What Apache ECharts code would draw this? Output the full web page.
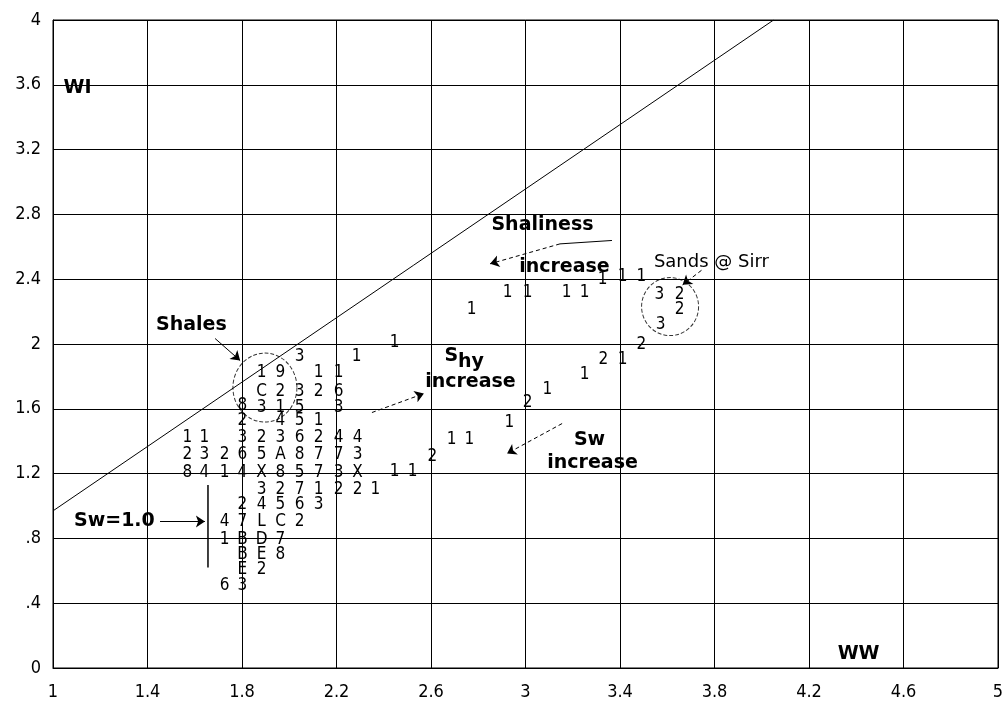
<!DOCTYPE html>
<html>
<head>
<meta charset="utf-8">
<script src="https://cdn.jsdelivr.net/npm/echarts@6/dist/echarts.min.js"></script>
<style>
  html, body { margin: 0; padding: 0; background: #ffffff; }
  #chart { width: 1007px; height: 709px; }
</style>
</head>
<body>
<div id="chart"></div>
<script>
// Crossplot of WW (x) against WI (y); every cell shows a count / code character.
const codeX = [
  // WI ~ 1.82
  1.885, 1.965, 2.126, 2.211,
  // WI ~ 1.70
  1.885, 1.965, 2.046, 2.126, 2.211,
  // WI ~ 1.61
  1.804, 1.885, 1.965, 2.046, 2.211,
  // WI ~ 1.52
  1.804, 1.965, 2.046, 2.126,
  // WI ~ 1.42
  1.571, 1.643, 1.804, 1.885, 1.965, 2.046, 2.126, 2.211, 2.291,
  // WI ~ 1.31
  1.571, 1.643, 1.728, 1.804, 1.885, 1.965, 2.046, 2.126, 2.211, 2.291,
  // WI ~ 1.20
  1.571, 1.643, 1.728, 1.804, 1.885, 1.965, 2.046, 2.126, 2.211, 2.291, 2.448, 2.524,
  // WI ~ 1.10
  1.885, 1.965, 2.046, 2.126, 2.211, 2.291, 2.367,
  // WI ~ 1.00
  1.804, 1.885, 1.965, 2.046, 2.126,
  // WI ~ 0.90
  1.728, 1.804, 1.885, 1.965, 2.046,
  // WI ~ 0.79
  1.728, 1.804, 1.885, 1.965,
  // WI ~ 0.69
  1.804, 1.885, 1.965,
  // WI ~ 0.60
  1.804, 1.885,
  // WI ~ 0.50
  1.728, 1.804,
  // trend towards the clean sands
  2.046, 2.287, 2.448, 2.774,
  2.926, 3.011, 3.176, 3.252,
  3.328, 3.413, 3.493,
  3.569, 3.654, 3.654, 3.574,
  3.493, 3.332, 3.413, 3.252, 3.095, 3.011, 2.934,
  2.689, 2.765, 2.608
];
const codeY = [
  1.818, 1.818, 1.818, 1.818,
  1.704, 1.704, 1.704, 1.704, 1.704,
  1.615, 1.602, 1.602, 1.602, 1.602,
  1.522, 1.522, 1.522, 1.522,
  1.417, 1.417, 1.417, 1.417, 1.417, 1.417, 1.417, 1.417, 1.417,
  1.312, 1.312, 1.312, 1.312, 1.312, 1.312, 1.312, 1.312, 1.312, 1.312,
  1.201, 1.201, 1.201, 1.201, 1.201, 1.201, 1.201, 1.201, 1.201, 1.201, 1.207, 1.207,
  1.096, 1.096, 1.096, 1.096, 1.096, 1.096, 1.096,
  1.003, 1.003, 1.003, 1.003, 1.003,
  0.898, 0.898, 0.898, 0.898, 0.898,
  0.787, 0.787, 0.787, 0.787,
  0.694, 0.694, 0.694,
  0.602, 0.602,
  0.503, 0.503,
  1.917, 1.917, 2.003, 2.207,
  2.312, 2.312, 2.312, 2.312,
  2.392, 2.411, 2.411,
  2.299, 2.299, 2.207, 2.114,
  1.991, 1.898, 1.898, 1.806, 1.713, 1.633, 1.509,
  1.404, 1.404, 1.299
];
const codeText = [
  '1', '9', '1', '1',
  'C', '2', '3', '2', '6',
  '8', '3', '1', '5', '3',
  '2', '4', '5', '1',
  '1', '1', '3', '2', '3', '6', '2', '4', '4',
  '2', '3', '2', '6', '5', 'A', '8', '7', '7', '3',
  '8', '4', '1', '4', 'X', '8', '5', '7', '3', 'X', '1', '1',
  '3', '2', '7', '1', '2', '2', '1',
  '2', '4', '5', '6', '3',
  '4', '7', 'L', 'C', '2',
  '1', 'B', 'D', '7',
  'B', 'E', '8',
  'E', '2',
  '6', '3',
  '3', '1', '1', '1',
  '1', '1', '1', '1',
  '1', '1', '1',
  '3', '2', '2', '3',
  '2', '2', '1', '1', '1', '2', '1',
  '1', '1', '2'
];

// Axis tick labels
const xTickLabels = ['1', '1.4', '1.8', '2.2', '2.6', '3', '3.4', '3.8', '4.2', '4.6', '5'];
const yTickLabels = ['0', '.4', '.8', '1.2', '1.6', '2', '2.4', '2.8', '3.2', '3.6', '4'];

// Shale line (100% shale reference) and the Sw = 1.0 marker line
const shaleLine = [[1.0, 0.97], [4.05, 4.0]];
const waterLine = [[1.656, 1.13], [1.656, 0.62]];

const narrow = '"Liberation Sans Narrow", "Arial Narrow", "DejaVu Sans Condensed", "Liberation Sans", sans-serif';
const boldFace = '"DejaVu Sans", "Liberation Sans", sans-serif';

const codePoints = codeX.map((x, i) => [x, codeY[i], codeText[i]]);

function textSeries(items, fontSize, weight, family) {
  return {
    type: 'scatter',
    symbol: 'circle',
    symbolSize: 1,
    silent: true,
    z: 5,
    itemStyle: { color: 'rgba(0,0,0,0)' },
    label: {
      show: true,
      position: [0, 0],
      align: 'center',
      verticalAlign: 'middle',
      formatter: p => p.data[2],
      color: '#000000',
      opacity: 1,
      textBorderWidth: 0,
      fontSize: fontSize,
      fontWeight: weight,
      fontFamily: family
    },
    data: items
  };
}

function segments(list, dashed, withHead) {
  return {
    type: 'lines', coordinateSystem: 'cartesian2d', silent: true, z: 4,
    symbol: withHead ? ['none', 'arrow'] : ['none', 'none'],
    symbolSize: 9,
    lineStyle: { color: '#000', width: 1, opacity: 1, type: dashed ? [4, 3] : 'solid' },
    data: list.map(c => ({ coords: c }))
  };
}

const chart = echarts.init(document.getElementById('chart'), null, { renderer: 'canvas' });

chart.setOption({
  animation: false,
  backgroundColor: '#ffffff',
  grid: {
    left: 53, right: 9, top: 20, bottom: 41,
    show: true, borderColor: '#000', borderWidth: 1, backgroundColor: 'transparent'
  },
  xAxis: {
    type: 'value', min: 1, max: 5, interval: 0.4,
    axisLine: { show: true, lineStyle: { color: '#000', width: 1 } },
    axisTick: { show: false },
    splitLine: { show: true, lineStyle: { color: '#000', width: 1 } },
    axisLabel: {
      margin: 15, color: '#000', fontSize: 18, fontFamily: narrow,
      formatter: v => xTickLabels[Math.round((v - 1) / 0.4)]
    }
  },
  yAxis: {
    type: 'value', min: 0, max: 4, interval: 0.4,
    axisLine: { show: true, lineStyle: { color: '#000', width: 1 } },
    axisTick: { show: false },
    splitLine: { show: true, lineStyle: { color: '#000', width: 1 } },
    axisLabel: {
      margin: 12, color: '#000', fontSize: 18, fontFamily: narrow,
      formatter: v => yTickLabels[Math.round(v / 0.4)]
    }
  },
  series: [
    {
      type: 'line', data: shaleLine, symbol: 'none', silent: true, z: 3,
      lineStyle: { color: '#000', width: 1 }
    },
    {
      type: 'line', data: waterLine, symbol: 'none', silent: true, z: 3,
      lineStyle: { color: '#000', width: 1.5 }
    },
    // dashed rings around the shale and clean-sand clusters
    {
      type: 'scatter', silent: true, z: 3,
      symbol: 'circle',
      itemStyle: { color: 'rgba(0,0,0,0)', borderColor: '#000', borderWidth: 1, borderType: [4, 2] },
      data: [
        { value: [1.897, 1.731], symbolSize: [64, 69] },
        { value: [3.612, 2.231], symbolSize: [57, 58] }
      ]
    },
    // annotation arrows
    segments([
      [[1.686, 2.034], [1.792, 1.898]],
      [[1.453, 0.904], [1.643, 0.904]]
    ], false, true),
    segments([
      [[3.146, 2.618], [2.850, 2.495]],
      [[3.745, 2.455], [3.665, 2.365]],
      [[2.350, 1.577], [2.570, 1.694]],
      [[3.155, 1.509], [2.922, 1.324]]
    ], true, true),
    segments([
      [[3.366, 2.639], [3.146, 2.618]]
    ], false, false),
    textSeries(codePoints, 17, 'normal', narrow),
    textSeries([
      [1.106, 3.577, 'WI'],
      [4.412, 0.083, 'WW'],
      [1.588, 2.114, 'Shales'],
      [3.074, 2.731, 'Shaliness'],
      [3.167, 2.472, 'increase'],
      [2.688, 1.923, 'S'],
      [2.771, 1.886, 'hy'],
      [2.769, 1.762, 'increase'],
      [3.273, 1.404, 'Sw'],
      [3.286, 1.262, 'increase'],
      [1.262, 0.904, 'Sw=1.0']
    ], 19, 'bold', boldFace),
    textSeries([[3.789, 2.503, 'Sands @ Sirr']], 18, 'normal', boldFace)
  ]
});
</script>
</body>
</html>
